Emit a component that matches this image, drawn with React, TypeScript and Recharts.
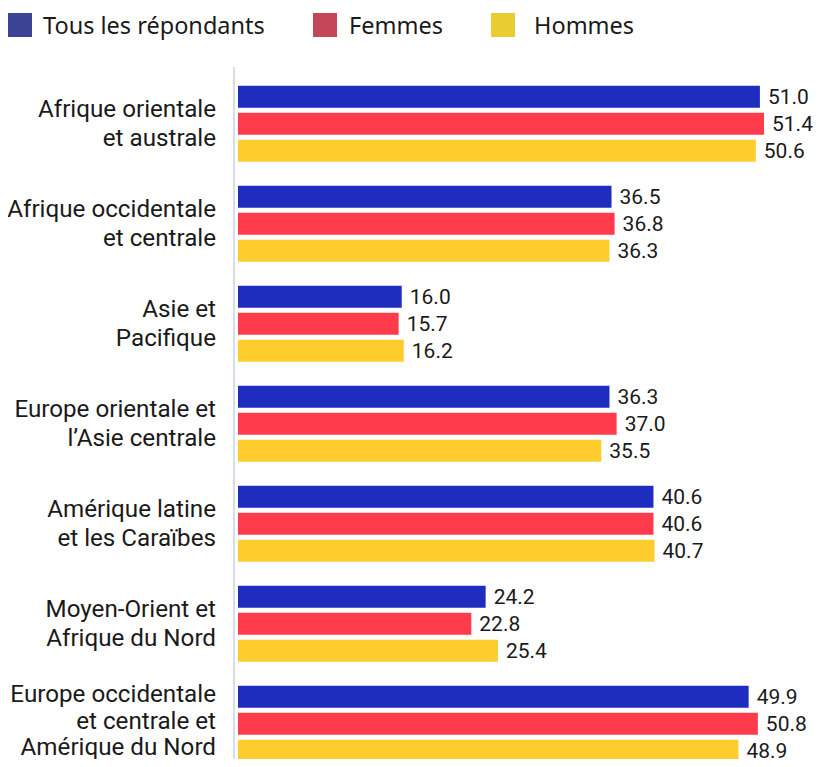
import React from "react";
import { BarChart, Bar, XAxis, YAxis, Legend, LabelList } from "recharts";

const categories = [
  "Afrique orientale\net australe",
  "Afrique occidentale\net centrale",
  "Asie et\nPacifique",
  "Europe orientale et\nl’Asie centrale",
  "Amérique latine\net les Caraïbes",
  "Moyen-Orient et\nAfrique du Nord",
  "Europe occidentale\net centrale et\nAmérique du Nord",
];
const tousValues = [51.0, 36.5, 16.0, 36.3, 40.6, 24.2, 49.9];
const femmesValues = [51.4, 36.8, 15.7, 37.0, 40.6, 22.8, 50.8];
const hommesValues = [50.6, 36.3, 16.2, 35.5, 40.7, 25.4, 48.9];
const seriesNames = ["Tous les répondants", "Femmes", "Hommes"];

const data = categories.map((c, i) => ({
  region: c,
  tous: tousValues[i],
  femmes: femmesValues[i],
  hommes: hommesValues[i],
}));

const LEGEND_FONT = "'Noto Sans', 'Open Sans', sans-serif";
const FONT = "Roboto, 'Noto Sans', sans-serif";
const TEXT = "#1a1a1a";
const barColors = ["#1f2dbf", "#ff3b4c", "#ffcc2e"];
const legendColors = ["#3a4394", "#c44759", "#e8cc32"];
const legendItemWidths = [305, 178, 200];
const legendTextGaps = [11, 12, 19];

const CategoryTick = (props: any) => {
  const { x, y, payload } = props;
  const lines: string[] = String(payload.value).split("\n");
  const lh = lines.length > 2 ? 26.5 : 28.5;
  const shift = lines.length > 2 ? -3 : 0;
  const start = -((lines.length - 1) * lh) / 2 + shift;
  return (
    <text
      x={x - 18}
      y={y}
      textAnchor="end"
      fill={TEXT}
      fontSize={24.2}
      fontFamily={FONT}
    >
      {lines.map((l, i) => (
        <tspan key={i} x={x - 18} y={y + start + i * lh} dy="0.36em">
          {l}
        </tspan>
      ))}
    </text>
  );
};

const LegendContent = () => (
  <div
    style={{
      display: "flex",
      fontFamily: LEGEND_FONT,
      fontSize: 23.5,
      color: TEXT,
    }}
  >
    {seriesNames.map((n, i) => (
      <div
        key={n}
        style={{
          display: "flex",
          alignItems: "center",
          width: legendItemWidths[i],
          flex: "none",
        }}
      >
        <div
          style={{
            width: 24,
            height: 24,
            background: legendColors[i],
            marginRight: legendTextGaps[i],
            flex: "none",
          }}
        />
        <span style={{ lineHeight: "34px", whiteSpace: "nowrap" }}>{n}</span>
      </div>
    ))}
  </div>
);

const fmt = (v: any) => Number(v).toFixed(1);

export default function App() {
  return (
    <div
      style={{
        width: 822,
        height: 759,
        overflow: "hidden",
        marginLeft: -8,
        marginBottom: -8,
      }}
    >
      <BarChart
        width={822}
        height={770}
        data={data}
        layout="vertical"
        margin={{ top: 59, right: 58, bottom: 5, left: 8 }}
        barCategoryGap={12.65}
        barGap={5}
      >
        <Legend
          verticalAlign="middle"
          align="center"
          layout="horizontal"
          content={<LegendContent />}
          wrapperStyle={{ top: 0, left: 8, width: 800 }}
        />
        <XAxis
          type="number"
          domain={[0, 51.4]}
          hide
          padding={{ left: 4, right: 0 }}
        />
        <YAxis
          type="category"
          dataKey="region"
          width={226}
          tickLine={false}
          tickSize={0}
          tickMargin={0}
          axisLine={{ stroke: "#d5dfe9", strokeWidth: 2 }}
          tick={<CategoryTick />}
          padding={{ top: 6, bottom: 0 }}
          interval={0}
        />
        {(["tous", "femmes", "hommes"] as const).map((k, i) => (
          <Bar
            key={k}
            dataKey={k}
            name={seriesNames[i]}
            fill={barColors[i]}
            isAnimationActive={false}
          >
            <LabelList
              dataKey={k}
              position="right"
              offset={8}
              formatter={fmt}
              fill={TEXT}
              fontSize={21}
              fontFamily={FONT}
            />
          </Bar>
        ))}
      </BarChart>
    </div>
  );
}
